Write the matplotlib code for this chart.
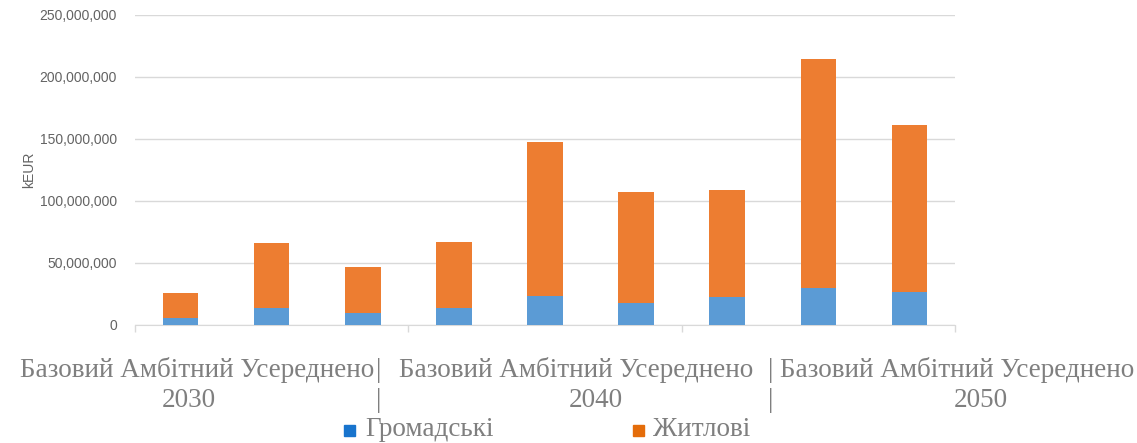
import matplotlib.pyplot as plt
from matplotlib.ticker import FuncFormatter
from matplotlib.patches import Rectangle
import numpy as np

# значення (kEUR)
scenarii = ["Базовий", "Амбітний", "Усереднено"]
roky = ["2030", "2040", "2050"]
hromadski = [5.4e6, 13.4e6, 9.7e6, 13.7e6, 23.4e6, 17.5e6, 22.9e6, 30.1e6, 26.9e6]
zhytlovi_razom = [25.5e6, 66.4e6, 46.8e6, 67.0e6, 147.3e6, 107.3e6, 109.1e6, 214.2e6, 161.0e6]
zhytlovi = [z - h for z, h in zip(zhytlovi_razom, hromadski)]

kolir_blue = '#5B9BD5'
kolir_orange = '#ED7D31'
sirij = '#636363'
sirij_svitl = '#7F7F7F'
W, H = 1137, 443

fig = plt.figure(figsize=(W / 100, H / 100), dpi=100)
ax = fig.add_axes([135 / W, 1 - 325 / H, 820 / W, 310 / H])

x = np.arange(len(hromadski))
ax.bar(x, hromadski, width=0.39, color=kolir_blue, zorder=3)
ax.bar(x, zhytlovi, width=0.39, bottom=hromadski, color=kolir_orange, zorder=3)

ax.set_xlim(-0.5, len(x) - 0.5)
ax.set_ylim(0, 250e6)
ax.set_yticks(np.arange(0, 250e6 + 1, 50e6))
ax.yaxis.set_major_formatter(FuncFormatter(lambda v, p: f"{int(v):,}"))
ax.tick_params(axis='y', length=0, labelsize=10, labelcolor=sirij, pad=13)
for lbl in ax.get_yticklabels():
    lbl.set_fontfamily('Liberation Sans')
ax.grid(axis='y', color='#D9D9D9', linewidth=1, zorder=0)

ax.set_xticks([-0.5, 2.5, 5.5, 8.5])
ax.set_xticklabels([])
ax.tick_params(axis='x', length=5, color='#D9D9D9', width=1)

for s in ['top', 'right', 'left']:
    ax.spines[s].set_visible(False)
ax.spines['bottom'].set_color('#D9D9D9')

ax.set_ylabel('kEUR', fontsize=10, color=sirij, family='Liberation Sans', labelpad=2.5)

# підписи груп (як у вихідному Excel)
serif = dict(family='Liberation Serif', color=sirij_svitl, fontsize=19.5, ha='center', va='baseline')
tsentry_nazv = [197, 576, 957]
tsentry_rokiv = [189, 596, 981]
for i, rik in enumerate(roky):
    fig.text(tsentry_nazv[i] / W, 1 - 377 / H, " ".join(scenarii), **serif)
    fig.text(tsentry_rokiv[i] / W, 1 - 407 / H, rik, **serif)
for xs in [379, 771]:
    fig.text(xs / W, 1 - 377 / H, "|", **serif)
    fig.text(xs / W, 1 - 407 / H, "|", **serif)

# легенда
legenda = [("Громадські", '#1874CD', 344, 365), ("Житлові", '#E46C0A', 633, 653)]
for tekst, kolir, xp, xt in legenda:
    fig.add_artist(Rectangle((xp / W, 1 - 436 / H), 11 / W, 11 / H,
                             color=kolir, transform=fig.transFigure))
    fig.text(xt / W, 1 - 436 / H, tekst, family='Liberation Serif',
             color=sirij_svitl, fontsize=19.5, ha='left', va='baseline')

fig.savefig('out.png', dpi=100)
